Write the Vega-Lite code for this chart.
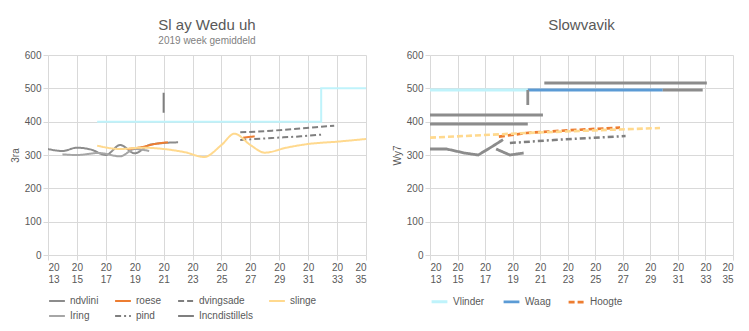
{
  "$schema": "https://vega.github.io/schema/vega-lite/v6.json",
  "background": "white",
  "padding": {"left": 10, "top": 18, "right": 5, "bottom": 0},
  "datasets": {
    "left": [
      {"series": "ndvlini", "seg": "a", "i": 1, "year": 2013, "value": 318},
      {"series": "ndvlini", "seg": "a", "i": 2, "year": 2014, "value": 312},
      {"series": "ndvlini", "seg": "a", "i": 3, "year": 2015, "value": 322},
      {"series": "ndvlini", "seg": "a", "i": 4, "year": 2016, "value": 316},
      {"series": "ndvlini", "seg": "a", "i": 5, "year": 2017, "value": 300},
      {"series": "ndvlini", "seg": "a", "i": 6, "year": 2018, "value": 330},
      {"series": "ndvlini", "seg": "a", "i": 7, "year": 2019, "value": 305},
      {"series": "ndvlini", "seg": "a", "i": 8, "year": 2020, "value": 330},
      {"series": "ndvlini", "seg": "a", "i": 9, "year": 2021, "value": 336},
      {"series": "ndvlini", "seg": "a", "i": 10, "year": 2022, "value": 338},
      {"series": "Iring", "seg": "b", "i": 1, "year": 2014, "value": 302},
      {"series": "Iring", "seg": "b", "i": 2, "year": 2015, "value": 300},
      {"series": "Iring", "seg": "b", "i": 3, "year": 2016.5, "value": 306},
      {"series": "Iring", "seg": "b", "i": 4, "year": 2018, "value": 296},
      {"series": "Iring", "seg": "b", "i": 5, "year": 2019, "value": 318},
      {"series": "Iring", "seg": "b", "i": 6, "year": 2020, "value": 312},
      {"series": "roese", "seg": "c", "i": 1, "year": 2018.5, "value": 318},
      {"series": "roese", "seg": "c", "i": 2, "year": 2019.5, "value": 324},
      {"series": "roese", "seg": "c", "i": 3, "year": 2020.5, "value": 334},
      {"series": "roese", "seg": "c", "i": 4, "year": 2021.3, "value": 338},
      {"series": "roese", "seg": "d", "i": 1, "year": 2026.5, "value": 352},
      {"series": "roese", "seg": "d", "i": 2, "year": 2027.3, "value": 356},
      {"series": "dvingsade", "seg": "e", "i": 1, "year": 2026.3, "value": 368},
      {"series": "dvingsade", "seg": "e", "i": 2, "year": 2028.5, "value": 373},
      {"series": "dvingsade", "seg": "e", "i": 3, "year": 2030.5, "value": 380},
      {"series": "dvingsade", "seg": "e", "i": 4, "year": 2032.8, "value": 388},
      {"series": "pind", "seg": "f", "i": 1, "year": 2026.3, "value": 345},
      {"series": "pind", "seg": "f", "i": 2, "year": 2028.5, "value": 351},
      {"series": "pind", "seg": "f", "i": 3, "year": 2030.5, "value": 356},
      {"series": "pind", "seg": "f", "i": 4, "year": 2031.9, "value": 361},
      {"series": "Incndistillels", "seg": "g", "i": 1, "year": 2021, "value": 487},
      {"series": "Incndistillels", "seg": "g", "i": 2, "year": 2021, "value": 427},
      {"series": "slinge", "seg": "h", "i": 1, "year": 2016.4, "value": 328},
      {"series": "slinge", "seg": "h", "i": 2, "year": 2018, "value": 318},
      {"series": "slinge", "seg": "h", "i": 3, "year": 2019.5, "value": 322},
      {"series": "slinge", "seg": "h", "i": 4, "year": 2021, "value": 318},
      {"series": "slinge", "seg": "h", "i": 5, "year": 2022.5, "value": 308},
      {"series": "slinge", "seg": "h", "i": 6, "year": 2023.8, "value": 294},
      {"series": "slinge", "seg": "h", "i": 7, "year": 2025, "value": 330},
      {"series": "slinge", "seg": "h", "i": 8, "year": 2025.9, "value": 364},
      {"series": "slinge", "seg": "h", "i": 9, "year": 2027, "value": 330},
      {"series": "slinge", "seg": "h", "i": 10, "year": 2028, "value": 307},
      {"series": "slinge", "seg": "h", "i": 11, "year": 2029.5, "value": 322},
      {"series": "slinge", "seg": "h", "i": 12, "year": 2031, "value": 333},
      {"series": "slinge", "seg": "h", "i": 13, "year": 2033, "value": 340},
      {"series": "slinge", "seg": "h", "i": 14, "year": 2035, "value": 348},
      {"series": "Vlinder", "seg": "k", "i": 1, "year": 2016.4, "value": 400},
      {"series": "Vlinder", "seg": "k", "i": 2, "year": 2031.9, "value": 400},
      {"series": "Vlinder", "seg": "k", "i": 3, "year": 2031.9, "value": 500},
      {"series": "Vlinder", "seg": "k", "i": 4, "year": 2035, "value": 500}
    ],
    "right": [
      {"series": "Vlinder", "seg": "a", "i": 1, "year": 2013, "value": 495},
      {"series": "Vlinder", "seg": "a", "i": 2, "year": 2020.1, "value": 495},
      {"series": "Waag", "seg": "b", "i": 1, "year": 2020.1, "value": 495},
      {"series": "Waag", "seg": "b", "i": 2, "year": 2029.9, "value": 495},
      {"series": "grijs", "seg": "c", "i": 1, "year": 2021.3, "value": 516},
      {"series": "grijs", "seg": "c", "i": 2, "year": 2033.1, "value": 516},
      {"series": "grijs", "seg": "d", "i": 1, "year": 2029.9, "value": 495},
      {"series": "grijs", "seg": "d", "i": 2, "year": 2032.8, "value": 495},
      {"series": "grijs", "seg": "e", "i": 1, "year": 2020.1, "value": 495},
      {"series": "grijs", "seg": "e", "i": 2, "year": 2020.1, "value": 450},
      {"series": "grijs", "seg": "f", "i": 1, "year": 2013, "value": 420},
      {"series": "grijs", "seg": "f", "i": 2, "year": 2021.2, "value": 420},
      {"series": "grijs", "seg": "g", "i": 1, "year": 2013, "value": 393},
      {"series": "grijs", "seg": "g", "i": 2, "year": 2020.1, "value": 393},
      {"series": "grijs", "seg": "h", "i": 1, "year": 2013, "value": 318},
      {"series": "grijs", "seg": "h", "i": 2, "year": 2014.2, "value": 318},
      {"series": "grijs", "seg": "h", "i": 3, "year": 2015.5, "value": 306},
      {"series": "grijs", "seg": "h", "i": 4, "year": 2016.5, "value": 300},
      {"series": "grijs", "seg": "h", "i": 5, "year": 2017.5, "value": 325},
      {"series": "grijs", "seg": "h", "i": 6, "year": 2018.3, "value": 346},
      {"series": "grijs", "seg": "i", "i": 1, "year": 2017.8, "value": 318},
      {"series": "grijs", "seg": "i", "i": 2, "year": 2018.8, "value": 300},
      {"series": "grijs", "seg": "i", "i": 3, "year": 2019.8, "value": 306},
      {"series": "Hoogte", "seg": "j", "i": 1, "year": 2018, "value": 355},
      {"series": "Hoogte", "seg": "j", "i": 2, "year": 2020, "value": 366},
      {"series": "Hoogte", "seg": "j", "i": 3, "year": 2023, "value": 374},
      {"series": "Hoogte", "seg": "j", "i": 4, "year": 2026.8, "value": 382},
      {"series": "geel", "seg": "k", "i": 1, "year": 2013, "value": 352},
      {"series": "geel", "seg": "k", "i": 2, "year": 2020, "value": 366},
      {"series": "geel", "seg": "k", "i": 3, "year": 2025, "value": 374},
      {"series": "geel", "seg": "k", "i": 4, "year": 2029.7, "value": 381},
      {"series": "streep", "seg": "l", "i": 1, "year": 2018.8, "value": 336},
      {"series": "streep", "seg": "l", "i": 2, "year": 2022, "value": 345},
      {"series": "streep", "seg": "l", "i": 3, "year": 2027.2, "value": 357}
    ]
  },
  "hconcat": [
    {
      "width": 318,
      "height": 200,
      "title": {"text": "Sl ay Wedu uh", "subtitle": "2019 week gemiddeld"},
      "data": {"name": "left"},
      "mark": {"type": "line", "interpolate": "monotone", "clip": true},
      "encoding": {
        "x": {"field": "year", "type": "quantitative", "scale": {"domain": [2013, 2035], "nice": false, "zero": false},
              "axis": {"values": [2013, 2015, 2017, 2019, 2021, 2023, 2025, 2027, 2029, 2031, 2033, 2035], "format": "d", "title": null, "labelAngle": 0, "labelOverlap": false, "labelExpr": "[substring(datum.label,0,2), substring(datum.label,2,4)]"}},
        "y": {"field": "value", "type": "quantitative", "scale": {"domain": [0, 600], "nice": false},
              "axis": {"values": [0, 100, 200, 300, 400, 500, 600], "format": "d", "title": "3ra"}},
        "detail": {"field": "seg"},
        "order": {"field": "i"},
        "color": {"field": "series", "type": "nominal",
                  "scale": {"domain": ["ndvlini", "roese", "dvingsade", "slinge", "Iring", "pind", "Incndistillels", "Vlinder"],
                            "range": ["#8c8c8c", "#ed7d31", "#7f7f7f", "#ffd98e", "#a6a6a6", "#7f7f7f", "#7f7f7f", "#bff3fb"]},
                  "legend": {"orient": "bottom", "columns": 4, "title": null, "offset": 8, "values": ["ndvlini", "roese", "dvingsade", "slinge", "Iring", "pind", "Incndistillels"]}},
        "strokeDash": {"field": "series", "type": "nominal",
                  "scale": {"domain": ["ndvlini", "roese", "dvingsade", "slinge", "Iring", "pind", "Incndistillels", "Vlinder"],
                            "range": [[1, 0], [1, 0], [6, 3], [1, 0], [1, 0], [6, 3, 2, 3], [1, 0], [1, 0]]},
                  "legend": {"orient": "bottom", "columns": 4, "title": null, "offset": 8, "values": ["ndvlini", "roese", "dvingsade", "slinge", "Iring", "pind", "Incndistillels"]}},
        "strokeWidth": {"field": "series", "type": "nominal",
                  "scale": {"domain": ["ndvlini", "roese", "dvingsade", "slinge", "Iring", "pind", "Incndistillels", "Vlinder"],
                            "range": [2, 2, 2, 4, 2, 2, 2, 3]},
                  "legend": null}
      }
    },
    {
      "width": 303,
      "height": 200,
      "title": {"text": "Slowvavik", "subtitle": " "},
      "data": {"name": "right"},
      "mark": {"type": "line", "clip": true},
      "encoding": {
        "x": {"field": "year", "type": "quantitative", "scale": {"domain": [2013, 2035], "nice": false, "zero": false},
              "axis": {"values": [2013, 2015, 2017, 2019, 2021, 2023, 2025, 2027, 2029, 2031, 2033, 2035], "format": "d", "title": null, "labelAngle": 0, "labelOverlap": false, "labelExpr": "[substring(datum.label,0,2), substring(datum.label,2,4)]"}},
        "y": {"field": "value", "type": "quantitative", "scale": {"domain": [0, 600], "nice": false},
              "axis": {"values": [0, 100, 200, 300, 400, 500, 600], "format": "d", "title": "Wy7"}},
        "detail": {"field": "seg"},
        "order": {"field": "i"},
        "color": {"field": "series", "type": "nominal",
                  "scale": {"domain": ["Vlinder", "Waag", "grijs", "Hoogte", "geel", "streep"],
                            "range": ["#bff3fb", "#5b9bd5", "#8c8c8c", "#ed7d31", "#ffd98e", "#7f7f7f"]},
                  "legend": {"orient": "bottom", "columns": 3, "title": null, "offset": 8, "values": ["Vlinder", "Waag", "Hoogte"]}},
        "strokeDash": {"field": "series", "type": "nominal",
                  "scale": {"domain": ["Vlinder", "Waag", "grijs", "Hoogte", "geel", "streep"],
                            "range": [[1, 0], [1, 0], [1, 0], [6, 3], [6, 3], [6, 3, 2, 3]]},
                  "legend": null},
        "strokeWidth": {"field": "series", "type": "nominal",
                  "scale": {"domain": ["Vlinder", "Waag", "grijs", "Hoogte", "geel", "streep"],
                            "range": [3, 2.5, 2.5, 2, 3, 2]},
                  "legend": null}
      }
    }
  ],
  "spacing": 25,
  "resolve": {"scale": {"color": "independent", "strokeDash": "independent", "strokeWidth": "independent"}},
  "config": {
    "font": "Liberation Sans",
    "view": {"stroke": null},
    "title": {"fontSize": 15, "fontWeight": "normal", "color": "#595959", "subtitleColor": "#7f7f7f", "subtitleFontSize": 10, "anchor": "middle"},
    "axis": {"labelColor": "#595959", "labelFontSize": 10, "titleColor": "#595959", "titleFontSize": 10, "titleFontWeight": "normal", "gridColor": "#d9d9d9", "domain": false, "tickColor": "#d9d9d9"},
    "axisX": {"grid": true},
    "legend": {"labelColor": "#595959", "labelFontSize": 10, "symbolType": "stroke", "symbolSize": 250, "symbolStrokeWidth": 2.5, "columnPadding": 12, "rowPadding": 1}
  }
}
